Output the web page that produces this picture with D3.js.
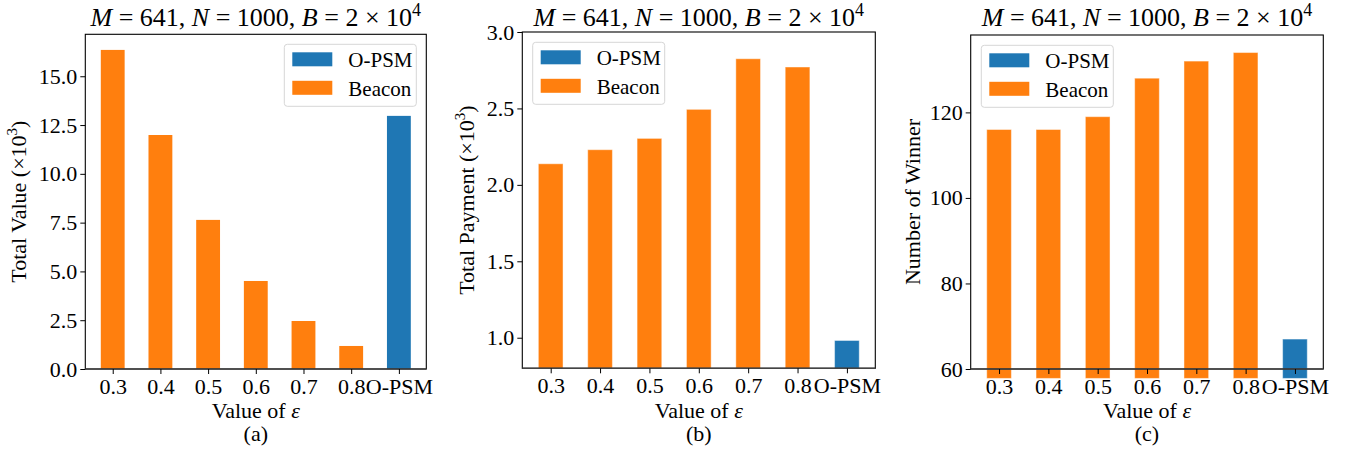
<!DOCTYPE html>
<html>
<head>
<meta charset="utf-8">
<script src="https://cdn.jsdelivr.net/npm/d3@7"></script>
<style>
  body { margin: 0; background: #fff; }
  text { font-family: "Liberation Serif", "Times New Roman", serif; fill: #000; }
</style>
</head>
<body>
<div id="chart"></div>
<script>
// categories on the x axis (last one is the baseline method)
const categories = ["0.3", "0.4", "0.5", "0.6", "0.7", "0.8", "O-PSM"];
const seriesOf = ["Beacon", "Beacon", "Beacon", "Beacon", "Beacon", "Beacon", "O-PSM"];

// values
const totalValue = [16.35, 11.99, 7.64, 4.51, 2.46, 1.18, 12.97];      // x10^3
const totalPayment = [2.138, 2.23, 2.304, 2.494, 2.825, 2.771, 0.982]; // x10^3
const winners = [116, 116, 119, 128, 132, 134, 67];

// tick labels
const valueTicks = [0, 2.5, 5, 7.5, 10, 12.5, 15];
const paymentTicks = [1.0, 1.5, 2.0, 2.5, 3.0];
const winnerTicks = [60, 80, 100, 120];

const legendItems = ["O-PSM", "Beacon"];
const colors = {"O-PSM": "#1f77b4", "Beacon": "#ff7f0e"};

const W = 1353, H = 454;
const svg = d3.select("#chart").append("svg")
  .attr("width", W)
  .attr("height", H);

function drawPanel(cfg) {
  let left = cfg.left, right = cfg.right, top = cfg.top, bottom = cfg.bottom;

  let x = d3.scaleLinear().domain([-0.575, categories.length - 1 + 0.575]).range([left, right]);
  let y = d3.scaleLinear().domain(cfg.yDomain).range([bottom, top]);

  let g = svg.append("g");

  // bars
  let clipId = "clip-" + cfg.tag;
  if (cfg.clip) {
    svg.append("clipPath").attr("id", clipId)
      .append("rect")
      .attr("x", left).attr("y", top)
      .attr("width", right - left).attr("height", bottom - top);
  }
  let barsG = g.append("g");
  if (cfg.clip) barsG.attr("clip-path", "url(#" + clipId + ")");
  barsG.selectAll("rect")
    .data(cfg.values)
    .enter()
    .append("rect")
      .attr("x", (d, i) => x(i - 0.25))
      .attr("width", (d, i) => x(i + 0.25) - x(i - 0.25))
      .attr("y", d => y(d))
      .attr("height", d => y(cfg.base) - y(d))
      .attr("fill", (d, i) => colors[seriesOf[i]])
      .attr("stroke", cfg.edge ? "rgba(255,255,255,0.45)" : "none")
      .attr("stroke-width", cfg.edge ? 1 : 0);

  // frame
  g.append("rect")
    .attr("x", left).attr("y", top)
    .attr("width", right - left).attr("height", bottom - top)
    .attr("fill", "none")
    .attr("stroke", "#000")
    .attr("stroke-width", 1.1);
  g.append("line")
    .attr("x1", left).attr("x2", right)
    .attr("y1", bottom).attr("y2", bottom)
    .attr("stroke", "#444")
    .attr("stroke-width", 1.6);

  // x axis
  let xAxis = d3.axisBottom(x)
    .tickValues(d3.range(categories.length))
    .tickFormat(i => categories[i])
    .tickSize(5)
    .tickPadding(4);
  let xg = g.append("g").attr("transform", `translate(0,${bottom})`).call(xAxis);
  xg.select(".domain").remove();
  xg.selectAll("line").attr("stroke", "#000").attr("stroke-width", 1);
  xg.selectAll("text").attr("font-size", 22).attr("font-family", null);

  // y axis
  let yAxis = d3.axisLeft(y)
    .tickValues(cfg.ticks)
    .tickFormat(cfg.fmt)
    .tickSize(5)
    .tickPadding(3);
  let yg = g.append("g").attr("transform", `translate(${left},0)`).call(yAxis);
  yg.select(".domain").remove();
  yg.selectAll("line").attr("stroke", "#000").attr("stroke-width", 1);
  yg.selectAll("text").attr("font-size", 22).attr("font-family", null);

  let cx = (left + right) / 2;

  // title
  let title = g.append("text")
    .attr("x", cx).attr("y", 26)
    .attr("text-anchor", "middle")
    .attr("font-size", 26);
  title.append("tspan").attr("font-style", "italic").text("M");
  title.append("tspan").text(" = 641, ");
  title.append("tspan").attr("font-style", "italic").text("N");
  title.append("tspan").text(" = 1000, ");
  title.append("tspan").attr("font-style", "italic").text("B");
  title.append("tspan").text(" = 2 × 10");
  title.append("tspan").attr("dy", -10).attr("font-size", 18).text("4");

  // y label
  let yl = g.append("text")
    .attr("transform", `translate(${cfg.ylabelX},${(top + bottom) / 2}) rotate(-90)`)
    .attr("text-anchor", "middle")
    .attr("font-size", 22);
  yl.append("tspan").text(cfg.ylabel);
  if (cfg.sup) {
    yl.append("tspan").attr("dy", -9).attr("font-size", 15).text("3");
    yl.append("tspan").attr("dy", 9).text(")");
  }

  // x label and panel tag
  let xl = g.append("text")
    .attr("x", cx).attr("y", 418)
    .attr("text-anchor", "middle")
    .attr("font-size", 22);
  xl.append("tspan").text("Value of ");
  xl.append("tspan").attr("font-style", "italic").text("ε");
  g.append("text")
    .attr("x", cx).attr("y", 441)
    .attr("text-anchor", "middle")
    .attr("font-size", 22)
    .text("(" + cfg.tag + ")");

  // legend
  let lg = g.append("g").attr("transform", `translate(${cfg.legend[0]},${cfg.legend[1]})`);
  lg.append("rect")
    .attr("width", 132).attr("height", 62)
    .attr("rx", 3)
    .attr("fill", "rgba(255,255,255,0.8)")
    .attr("stroke", "#d6d6d6")
    .attr("stroke-width", 1);
  legendItems.forEach((name, i) => {
    lg.append("rect")
      .attr("x", 8).attr("y", 8 + i * 28.5)
      .attr("width", 40).attr("height", 14)
      .attr("fill", colors[name]);
    lg.append("text")
      .attr("x", 64).attr("y", 23 + i * 28.5)
      .attr("font-size", 21)
      .text(name);
  });
}

drawPanel({
  tag: "a", left: 85.3, right: 426.3, top: 34.3, bottom: 369,
  values: totalValue, yDomain: [0, 17.15], base: 0, ticks: valueTicks,
  fmt: d3.format(".1f"), ylabel: "Total Value (×10", sup: true, ylabelX: 26,
  legend: [284.3, 44.3], clip: true, edge: false
});

drawPanel({
  tag: "b", left: 522.3, right: 875.3, top: 32, bottom: 368.3,
  values: totalPayment, yDomain: [0.8, 3.0], base: 0.8, ticks: paymentTicks,
  fmt: d3.format(".1f"), ylabel: "Total Payment (×10", sup: true, ylabelX: 474,
  legend: [532.7, 42.3], clip: true, edge: true
});

drawPanel({
  tag: "c", left: 970.7, right: 1323.3, top: 35, bottom: 369,
  values: winners, yDomain: [60, 138.1], base: 57.8, ticks: winnerTicks,
  fmt: d3.format("d"), ylabel: "Number of Winner", sup: false, ylabelX: 920,
  legend: [981.3, 45.3], clip: false, edge: true
});
</script>
</body>
</html>
